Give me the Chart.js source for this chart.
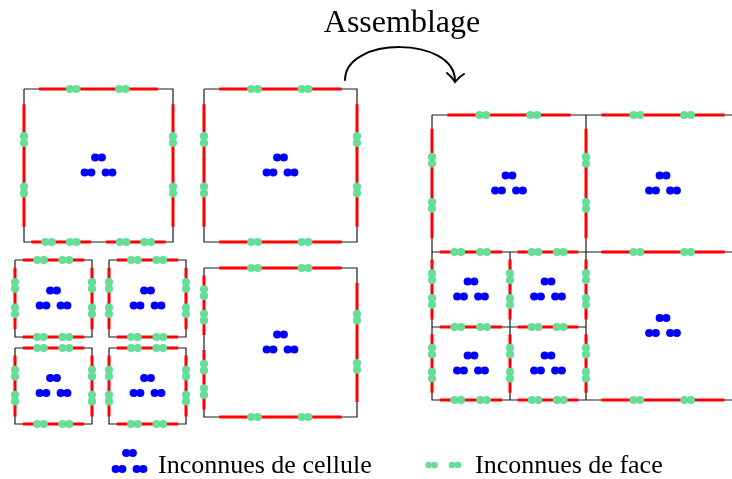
<!DOCTYPE html>
<html>
<head>
<meta charset="utf-8">
<script src="https://cdn.jsdelivr.net/npm/chart.js@4.4.1/dist/chart.umd.min.js"></script>
<style>
  html, body { margin: 0; padding: 0; background: #fff; }
  #wrap { width: 732px; height: 479px; }
</style>
</head>
<body>
<div id="wrap"><canvas id="c"></canvas></div>
<script>
// Separate meshes before assembly, boxes as [x0, y0, x1, y1] (picture units)
const leftCells = [
  [24, 89, 173, 242],
  [204, 89, 357, 242],
  [204, 268, 357, 417],
  [15, 260, 92, 337],
  [109, 260, 186, 337],
  [15, 348, 92, 424],
  [109, 348, 186, 424]
];
// faces cut in two because the neighbour is refined: [cell index, side]
const leftSplits = [[0, "bottom"], [2, "left"]];

// Assembled mesh (right part, runs off the page on the right)
const assembledCells = [
  [432, 115, 586, 252],
  [586, 115, 740, 252],
  [432, 252, 510, 327],
  [510, 252, 586, 327],
  [432, 327, 510, 400],
  [510, 327, 586, 400],
  [586, 252, 740, 400]
];

const titleText = "Assemblage";
const legendLabels = ["Inconnues de cellule", "Inconnues de face"];

const BLACK = "#1c1c1c";
const RED = "#ff0000";
const GREEN = "#66dd99";
const BLUE = "#0000ff";
const DOT_R = 4.1;
const PAIR = 3.3;          // half distance between the two dots of a pair
const FACE_T = [0.33, 0.66];
const INSET = 0.1;

function edges(c){
  const [x0, y0, x1, y1] = c;
  return {
    top: [x0, y0, x1, y0], bottom: [x0, y1, x1, y1],
    left: [x0, y0, x0, y1], right: [x1, y0, x1, y1]
  };
}
function halves(e){
  const mx = (e[0] + e[2]) / 2, my = (e[1] + e[3]) / 2;
  return [[e[0], e[1], mx, my], [mx, my, e[2], e[3]]];
}

// faces of the separate cells
const leftFaces = [];
leftCells.forEach((c, i) => {
  const es = edges(c);
  for (const side in es){
    const split = leftSplits.some(s => s[0] === i && s[1] === side);
    if (split) leftFaces.push(...halves(es[side]));
    else leftFaces.push(es[side]);
  }
});

// faces of the assembled mesh: unique edges, drop the ones that contain a smaller one
function contains(a, b){
  if (a === b) return false;
  if (a[1] === a[3] && b[1] === b[3] && a[1] === b[1])
    return b[0] >= a[0] && b[2] <= a[2] && (b[2] - b[0]) < (a[2] - a[0]);
  if (a[0] === a[2] && b[0] === b[2] && a[0] === b[0])
    return b[1] >= a[1] && b[3] <= a[3] && (b[3] - b[1]) < (a[3] - a[1]);
  return false;
}
const allEdges = [];
const seen = new Set();
assembledCells.forEach(c => {
  Object.values(edges(c)).forEach(e => {
    const k = e.join(",");
    if (!seen.has(k)){ seen.add(k); allEdges.push(e); }
  });
});
const assembledFaces = allEdges.filter(a => !allEdges.some(b => contains(a, b)));

const cells = leftCells.concat(assembledCells);
const faces = leftFaces.concat(assembledFaces);

// dataset contents
const outline = [], redLines = [], faceDots = [], cellDots = [];
cells.forEach(([x0, y0, x1, y1]) => {
  outline.push({x: x0, y: y0}, {x: x1, y: y0}, {x: x1, y: y1}, {x: x0, y: y1}, {x: x0, y: y0}, {x: x0, y: null});
  const cx = (x0 + x1) / 2, cy = (y0 + y1) / 2;
  [[0, -8], [-10.5, 7], [10.5, 7]].forEach(([dx, dy]) => {
    cellDots.push({x: cx + dx - PAIR, y: cy + dy}, {x: cx + dx + PAIR, y: cy + dy});
  });
});
faces.forEach(([x0, y0, x1, y1]) => {
  const L = Math.hypot(x1 - x0, y1 - y0), ux = (x1 - x0) / L, uy = (y1 - y0) / L;
  const at = t => [x0 + (x1 - x0) * t, y0 + (y1 - y0) * t];
  const a = at(INSET), b = at(1 - INSET);
  redLines.push({x: a[0], y: a[1]}, {x: b[0], y: b[1]}, {x: b[0], y: null});
  FACE_T.forEach(t => {
    const p = at(t);
    faceDots.push({x: p[0] - ux * PAIR, y: p[1] - uy * PAIR}, {x: p[0] + ux * PAIR, y: p[1] + uy * PAIR});
  });
});

const extras = {
  id: "extras",
  afterDraw(chart){
    const ctx = chart.ctx;
    const X = v => chart.scales.x.getPixelForValue(v);
    const Y = v => chart.scales.y.getPixelForValue(v);
    ctx.save();
    // title
    ctx.fillStyle = "#000";
    ctx.font = "32px 'Liberation Serif'";
    ctx.textBaseline = "alphabetic";
    ctx.textAlign = "center";
    ctx.fillText(titleText, X(402), Y(32));
    // curved arrow
    ctx.strokeStyle = "#000";
    ctx.lineWidth = 2;
    ctx.lineCap = "round";
    ctx.beginPath();
    ctx.moveTo(X(345), Y(80));
    ctx.bezierCurveTo(X(345), Y(36), X(455), Y(36), X(455), Y(81));
    ctx.stroke();
    ctx.beginPath();
    ctx.moveTo(X(447), Y(73));
    ctx.quadraticCurveTo(X(452), Y(77), X(455), Y(82));
    ctx.quadraticCurveTo(X(459), Y(77), X(464), Y(74));
    ctx.stroke();
    // legend
    const dot = (x, y, r, col) => { ctx.fillStyle = col; ctx.beginPath(); ctx.arc(X(x), Y(y), r, 0, Math.PI * 2); ctx.fill(); };
    [[129.5, 453], [119, 469], [140, 469]].forEach(([x, y]) => { dot(x - PAIR, y, DOT_R, BLUE); dot(x + PAIR, y, DOT_R, BLUE); });
    [[431.5, 465], [455, 465]].forEach(([x, y]) => { dot(x - 3, y, 3.3, GREEN); dot(x + 3, y, 3.3, GREEN); });
    ctx.fillStyle = "#000";
    ctx.font = "26px 'Liberation Serif'";
    ctx.textAlign = "left";
    ctx.fillText(legendLabels[0], X(158), Y(473));
    ctx.fillText(legendLabels[1], X(475), Y(473));
    ctx.restore();
  }
};

new Chart(document.getElementById("c"), {
  type: "scatter",
  data: {
    datasets: [
      { data: cellDots, pointRadius: DOT_R, pointBackgroundColor: BLUE, pointBorderWidth: 0, order: 0 },
      { data: faceDots, pointRadius: DOT_R, pointBackgroundColor: GREEN, pointBorderWidth: 0, order: 1 },
      { data: redLines, showLine: true, spanGaps: false, pointRadius: 0, borderColor: RED, borderWidth: 3, borderCapStyle: "butt", order: 2 },
      { data: outline, showLine: true, spanGaps: false, pointRadius: 0, borderColor: BLACK, borderWidth: 1.2, order: 3 }
    ]
  },
  options: {
    responsive: true,
    maintainAspectRatio: false,
    animation: false,
    events: [],
    layout: { padding: 0, autoPadding: false },
    plugins: { legend: { display: false }, tooltip: { enabled: false } },
    scales: {
      x: { type: "linear", min: 0, max: 732, display: false },
      y: { type: "linear", min: 0, max: 479, reverse: true, display: false }
    }
  },
  plugins: [extras]
});
</script>
</body>
</html>
